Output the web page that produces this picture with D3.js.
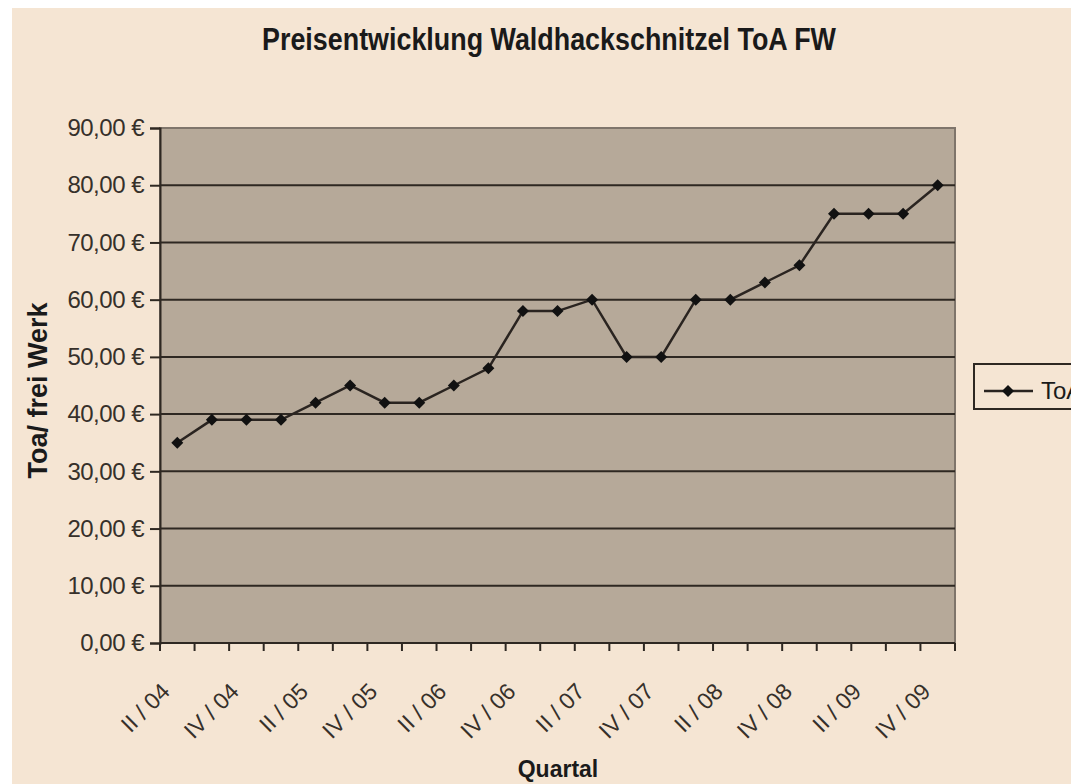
<!DOCTYPE html>
<html>
<head>
<meta charset="utf-8">
<script src="https://cdn.jsdelivr.net/npm/d3@7"></script>
<style>
  body { margin: 0; background: #fff; }
  svg { display: block; }
</style>
</head>
<body>
<script>
const quarters = ["II / 04", "III / 04", "IV / 04", "I / 05", "II / 05", "III / 05", "IV / 05",
    "I / 06", "II / 06", "III / 06", "IV / 06", "I / 07", "II / 07", "III / 07", "IV / 07",
    "I / 08", "II / 08", "III / 08", "IV / 08", "I / 09", "II / 09", "III / 09", "IV / 09"];
const prices = [35, 39, 39, 39, 42, 45, 42, 42, 45, 48, 58, 58, 60, 50, 50, 60, 60, 63, 66, 75, 75, 75, 80];
const yTicks = [0, 10, 20, 30, 40, 50, 60, 70, 80, 90];
const seriesName = "ToA FW";

const width = 1071, height = 784;
const plot = {left: 160, right: 955, top: 128, bottom: 643};
const font = "'Liberation Sans', Arial, sans-serif";

const svg = d3.select("body").append("svg")
    .attr("width", width)
    .attr("height", height);

// page background (white strip left/top like the scan)
svg.append("rect").attr("width", width).attr("height", height).attr("fill", "#fff");
svg.append("rect")
    .attr("x", 12).attr("y", 8)
    .attr("width", width - 12).attr("height", height - 8)
    .attr("fill", "#f5e5d3");

const x = d3.scaleBand()
    .domain(quarters)
    .range([plot.left, plot.right])
    .padding(0);

const y = d3.scaleLinear()
    .domain([0, 90])
    .range([plot.bottom, plot.top]);

// plot area
svg.append("rect")
    .attr("x", plot.left).attr("y", plot.top)
    .attr("width", plot.right - plot.left)
    .attr("height", plot.bottom - plot.top)
    .attr("fill", "#b6a999")
    .attr("stroke", "#7f756b")
    .attr("stroke-width", 2);

// gridlines
svg.append("g")
    .selectAll("line")
    .data(yTicks.filter(d => d > 0 && d < 90))
    .join("line")
    .attr("x1", plot.left).attr("x2", plot.right)
    .attr("y1", d => y(d)).attr("y2", d => y(d))
    .attr("stroke", "#2e2822")
    .attr("stroke-width", 2);

// y axis
const fmt = d => d3.format(".2f")(d).replace(".", ",") + " €";
const yAxis = svg.append("g")
    .attr("transform", `translate(${plot.left},0)`)
    .call(d3.axisLeft(y).tickValues(yTicks).tickFormat(fmt).tickSize(10).tickPadding(6));
yAxis.select(".domain").attr("stroke", "#2e2822").attr("stroke-width", 2);
yAxis.selectAll(".tick line").attr("stroke", "#2e2822").attr("stroke-width", 2);
yAxis.selectAll(".tick text")
    .attr("fill", "#36302a")
    .style("font-family", font)
    .style("font-size", "24px")
    .style("letter-spacing", "-0.5px");

// x axis: ticks at category boundaries
const xAxis = svg.append("g");
xAxis.append("line")
    .attr("x1", plot.left).attr("x2", plot.right)
    .attr("y1", plot.bottom).attr("y2", plot.bottom)
    .attr("stroke", "#2e2822").attr("stroke-width", 2);
const bounds = quarters.map(q => x(q)).concat([x(quarters[quarters.length - 1]) + x.bandwidth()]);
xAxis.selectAll("line.tick")
    .data(bounds)
    .join("line")
    .attr("class", "tick")
    .attr("x1", d => d).attr("x2", d => d)
    .attr("y1", plot.bottom).attr("y2", plot.bottom + 8)
    .attr("stroke", "#2e2822").attr("stroke-width", 2);

xAxis.selectAll("text")
    .data(quarters.filter((q, i) => i % 2 === 0))
    .join("text")
    .attr("transform", d => `translate(${x(d) + x.bandwidth() / 2 - 6},${plot.bottom + 50}) rotate(-45)`)
    .attr("text-anchor", "end")
    .attr("fill", "#36302a")
    .style("font-family", font)
    .style("font-size", "23px")
    .text(d => d);

// line + markers
const line = d3.line()
    .x((d, i) => x(quarters[i]) + x.bandwidth() / 2)
    .y(d => y(d));

svg.append("path")
    .datum(prices)
    .attr("d", line)
    .attr("fill", "none")
    .attr("stroke", "#2a2420")
    .attr("stroke-width", 2.5);

const diamond = d3.symbol(d3.symbolSquare, 72);
svg.append("g")
    .selectAll("path")
    .data(prices)
    .join("path")
    .attr("d", diamond)
    .attr("transform", (d, i) => `translate(${x(quarters[i]) + x.bandwidth() / 2},${y(d)}) rotate(45)`)
    .attr("fill", "#111");

// titles
svg.append("text")
    .attr("transform", "translate(549,50) scale(0.84,1)")
    .attr("text-anchor", "middle")
    .attr("fill", "#1a1a1a")
    .style("font-family", font)
    .style("font-size", "32px")
    .style("font-weight", "bold")
    .text("Preisentwicklung Waldhackschnitzel ToA FW");

svg.append("text")
    .attr("transform", `translate(47,${(plot.top + plot.bottom) / 2 + 5}) rotate(-90)`)
    .attr("text-anchor", "middle")
    .attr("fill", "#1a1a1a")
    .style("font-family", font)
    .style("font-size", "27px")
    .style("font-weight", "bold")
    .text("Toa/ frei Werk");

svg.append("text")
    .attr("x", 558).attr("y", 777)
    .attr("text-anchor", "middle")
    .attr("fill", "#1a1a1a")
    .style("font-family", font)
    .style("font-size", "23px")
    .style("font-weight", "bold")
    .text("Quartal");

// legend (runs off the right edge, as in the reference)
const legend = svg.append("g").attr("transform", "translate(974,364)");
legend.append("rect")
    .attr("width", 130).attr("height", 45)
    .attr("fill", "#f5e5d3")
    .attr("stroke", "#2e2822").attr("stroke-width", 2);
legend.append("line")
    .attr("x1", 10).attr("x2", 59).attr("y1", 27).attr("y2", 27)
    .attr("stroke", "#2a2420").attr("stroke-width", 2.5);
legend.append("path")
    .attr("d", diamond)
    .attr("transform", "translate(34,27) rotate(45)")
    .attr("fill", "#111");
legend.append("text")
    .attr("x", 67).attr("y", 35)
    .attr("fill", "#1a1a1a")
    .style("font-family", font)
    .style("font-size", "24px")
    .text(seriesName);
</script>
</body>
</html>
